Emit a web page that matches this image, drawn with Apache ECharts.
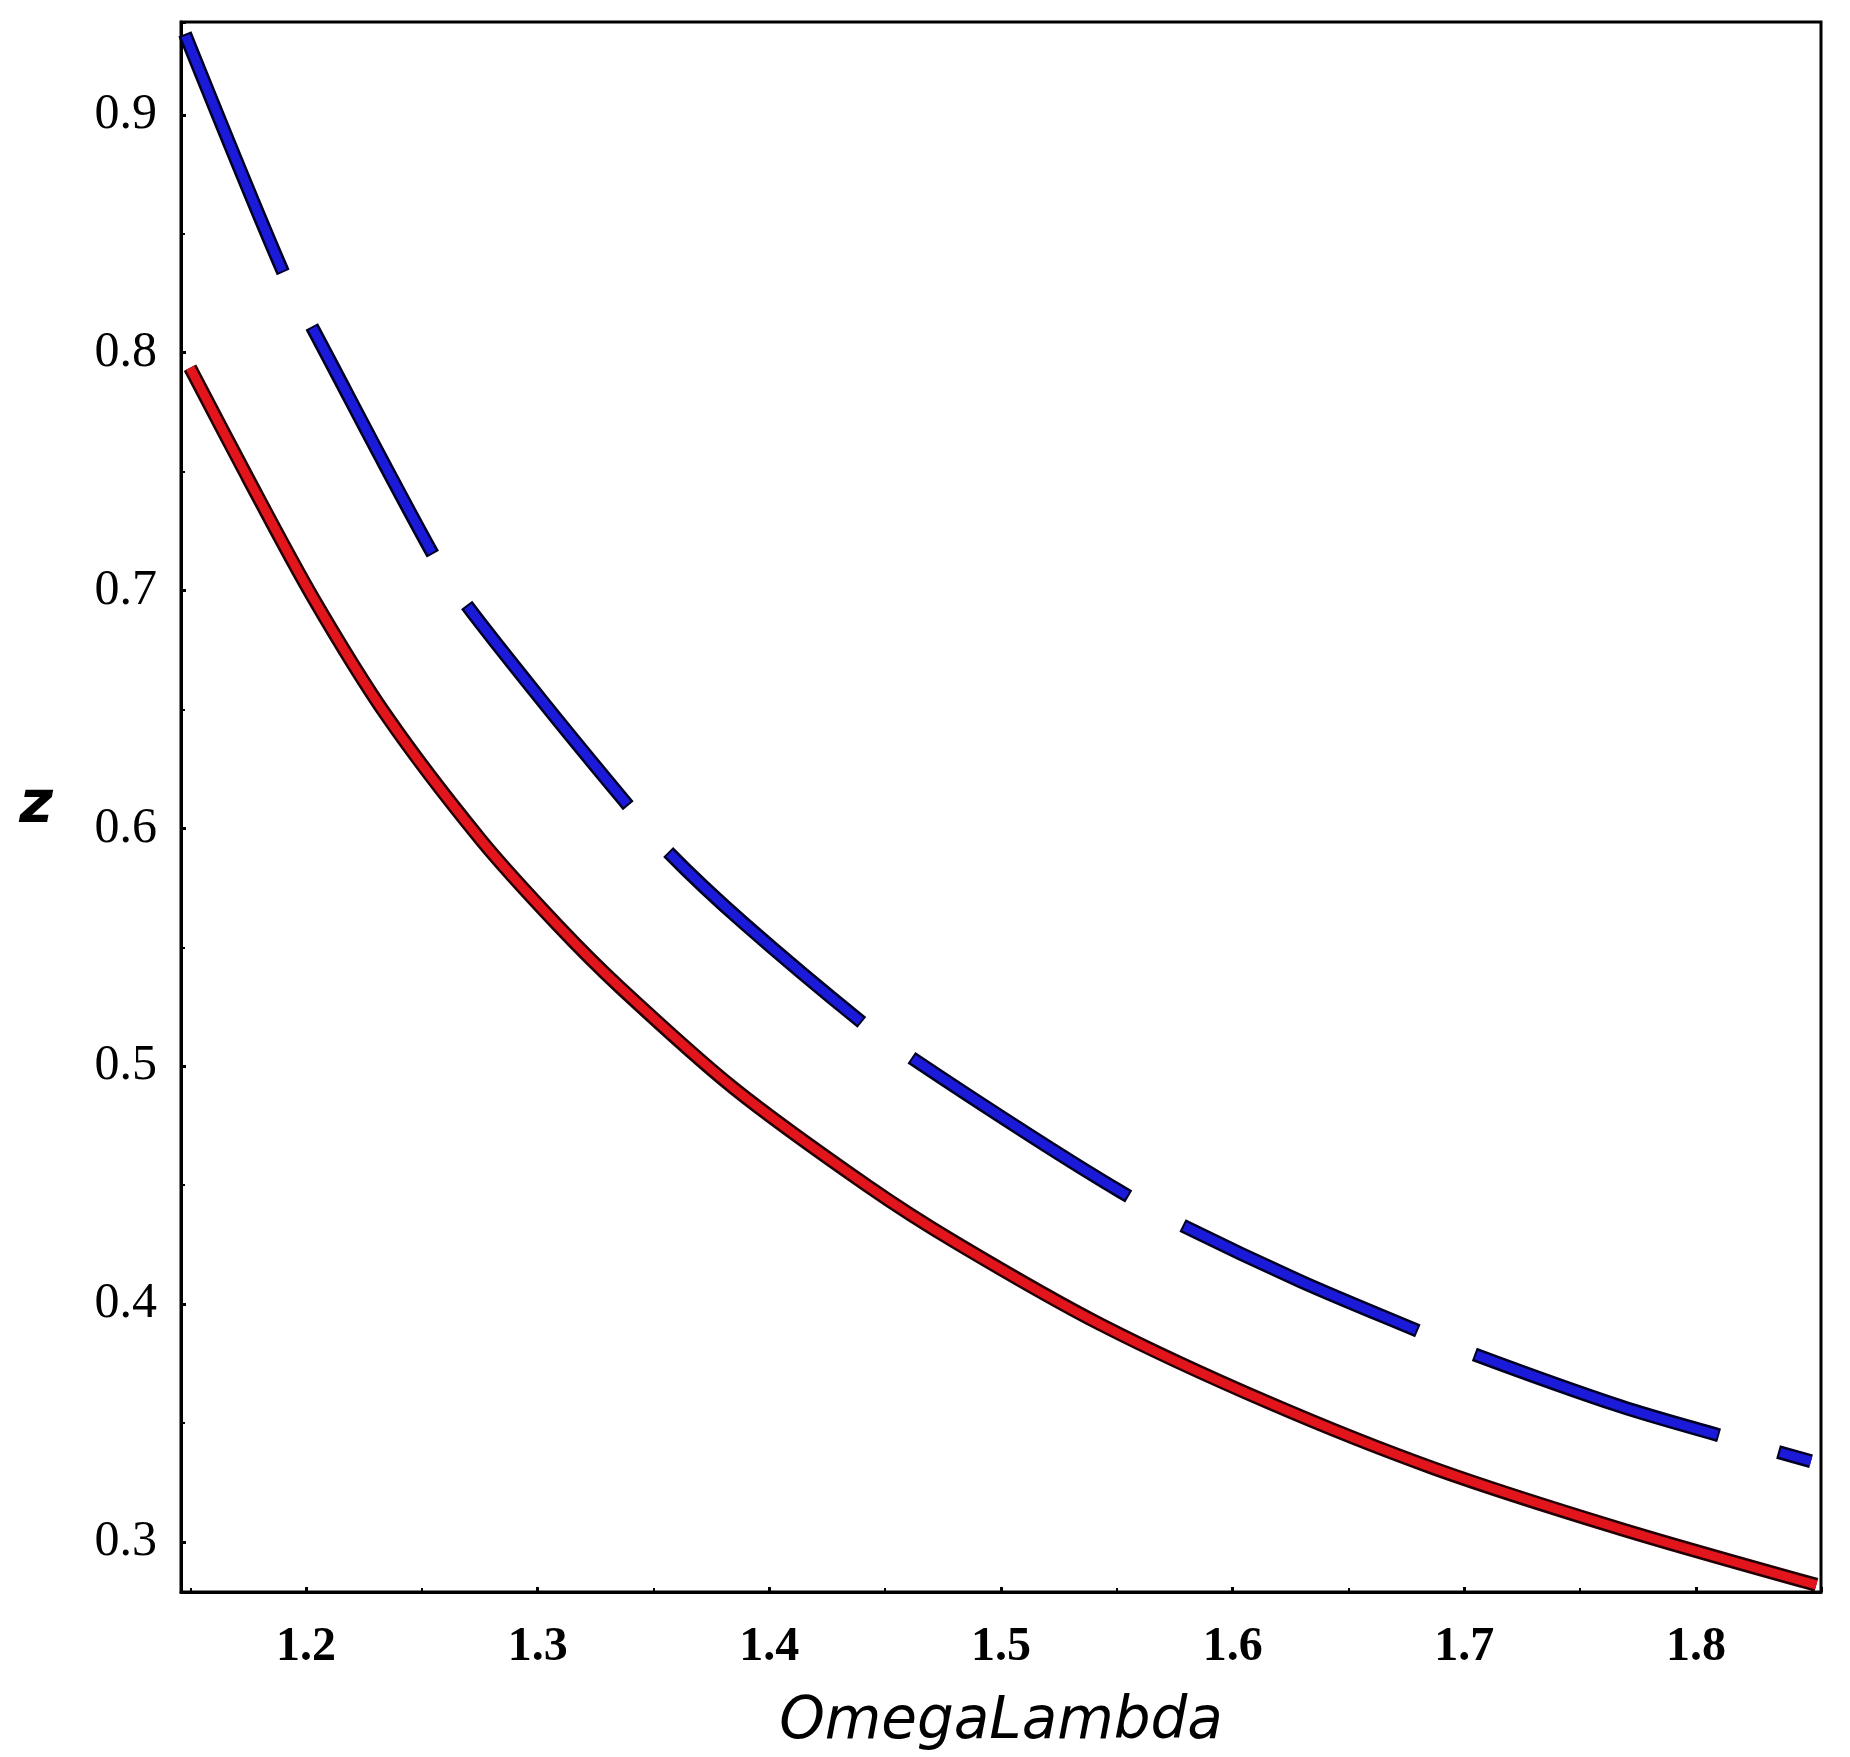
<!DOCTYPE html>
<html>
<head>
<meta charset="utf-8">
<title>z vs OmegaLambda</title>
<script src="https://cdn.jsdelivr.net/npm/echarts@6/dist/echarts.min.js"></script>
<style>
  html, body { margin: 0; padding: 0; background: #fff; }
  #chart { width: 1850px; height: 1757px; }
</style>
</head>
<body>
<div id="chart"></div>
<script>
// values
const omegaRed = [1.1499, 1.1745, 1.2030, 1.2350, 1.2752, 1.3084, 1.3356, 1.3844, 1.4423, 1.4812, 1.5430, 1.6151, 1.6868, 1.7676, 1.8520]
const zRed     = [0.7937, 0.7480, 0.6970, 0.6470, 0.5955, 0.5595, 0.5331, 0.4910, 0.4498, 0.4255, 0.3915, 0.3588, 0.3310, 0.3055, 0.2820]

const omegaBlue = [1.1477, 1.1900, 1.2030, 1.2549, 1.2695, 1.3041, 1.3370, 1.3560, 1.3888, 1.4400, 1.4610, 1.5140, 1.5516, 1.5775, 1.6294, 1.6782, 1.7041, 1.7676, 1.8095, 1.8497]
const zBlue     = [0.9340, 0.8340, 0.8100, 0.7150, 0.6937, 0.6510, 0.6120, 0.5904, 0.5603, 0.5184, 0.5038, 0.4700, 0.4473, 0.4335, 0.4096, 0.3895, 0.3790, 0.3570, 0.3450, 0.3340]

const xRange = [1.146, 1.854]
const yRange = [0.279, 0.939]

const toPairs = (xs, ys) => xs.map((x, i) => [x, ys[i]])

const chart = echarts.init(document.getElementById('chart'), null, { renderer: 'canvas' })

// one curve = dark underlay + coloured core, so it gets the dark rim of the original
const curve = (data, color, width, type, offset) => ({
  type: 'line',
  data: data,
  smooth: 0.3,
  showSymbol: false,
  symbol: 'none',
  silent: true,
  lineStyle: { color: color, width: width, type: type, dashOffset: offset || 0, cap: 'butt' },
  z: 3
})

const redData = toPairs(omegaRed, zRed)
const blueData = toPairs(omegaBlue, zBlue)

const option = {
  animation: false,
  backgroundColor: '#fff',
  grid: {
    left: 181, right: 29, top: 22, bottom: 158,
    show: true, borderColor: '#000', borderWidth: 3
  },
  xAxis: {
    type: 'value',
    min: xRange[0],
    max: xRange[1],
    splitNumber: 7,
    name: 'OmegaLambda',
    nameLocation: 'middle',
    nameGap: 102,
    nameTextStyle: { fontFamily: 'DejaVu Sans', fontStyle: 'italic', fontSize: 58, color: '#000' },
    axisLine: { show: true, lineStyle: { color: '#000', width: 3 } },
    axisTick: { show: true, inside: true, length: 5, lineStyle: { color: '#000', width: 3 } },
    minorTick: { show: true, splitNumber: 2, length: 4, lineStyle: { color: '#000', width: 2 } },
    splitLine: { show: false },
    axisLabel: {
      showMinLabel: false, showMaxLabel: false,
      margin: 32,
      fontFamily: 'Liberation Serif', fontSize: 48, fontWeight: 'bold', color: '#000'
    }
  },
  yAxis: {
    type: 'value',
    min: yRange[0],
    max: yRange[1],
    splitNumber: 7,
    name: 'z',
    nameLocation: 'middle',
    nameRotate: 0,
    nameGap: 128,
    nameTextStyle: { fontFamily: 'DejaVu Sans', fontStyle: 'italic', fontWeight: 'bold', fontSize: 58, color: '#000' },
    axisLine: { show: true, lineStyle: { color: '#000', width: 3 } },
    axisTick: { show: true, inside: true, length: 5, lineStyle: { color: '#000', width: 3 } },
    minorTick: { show: true, splitNumber: 2, length: 4, lineStyle: { color: '#000', width: 2 } },
    splitLine: { show: false },
    axisLabel: {
      showMinLabel: false, showMaxLabel: false,
      margin: 24,
      fontFamily: 'Liberation Serif', fontSize: 50, color: '#000'
    }
  },
  series: [
    curve(redData, '#220004', 14, 'solid'),
    curve(redData, '#e2141c', 9, 'solid'),
    curve(blueData, '#000024', 14, [258, 61]),
    curve(blueData, '#1a1ad8', 9, [254, 65], -2)
  ]
}

chart.setOption(option)
</script>
</body>
</html>
